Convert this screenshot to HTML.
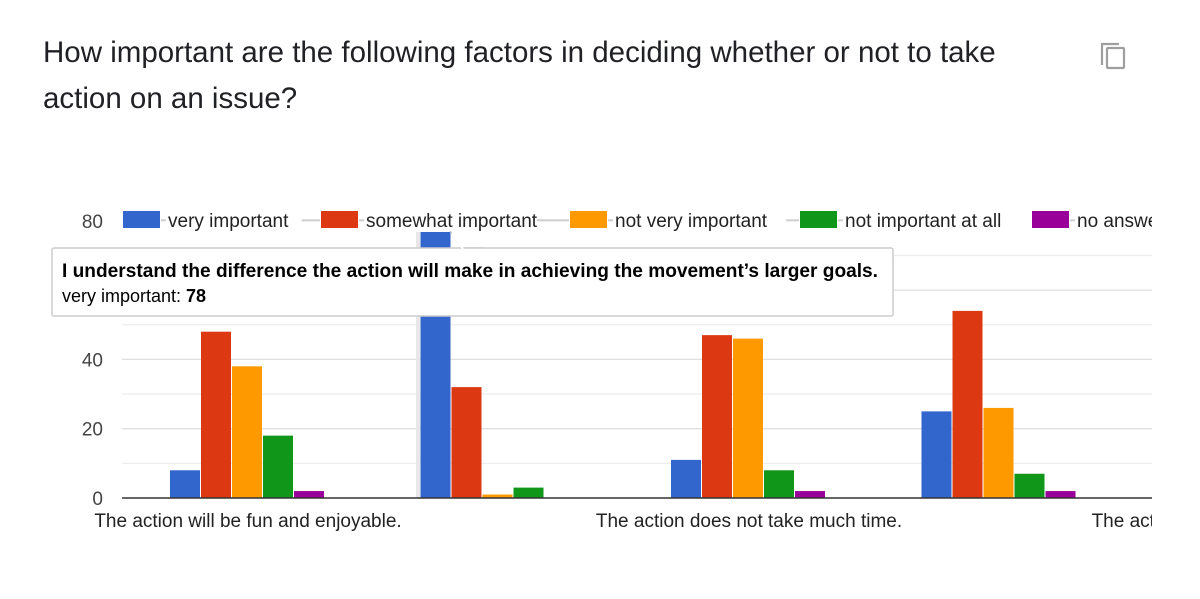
<!DOCTYPE html>
<html><head><meta charset="utf-8"><style>
body{margin:0;width:1200px;height:599px;background:#fff;overflow:hidden;font-family:"Liberation Sans",Arial,sans-serif}
#title{position:absolute;left:43px;top:30px;font-size:29.5px;line-height:46px;color:#202124;width:1000px}
svg{position:absolute;left:0;top:0}
</style></head><body>
<div id="title">How important are the following factors in deciding whether or not to take action on an issue?</div>
<svg width="1200" height="599">
<g fill="none" stroke="#9e9e9e" stroke-width="2.2">
<path d="M1102 65 V44 H1119"/><rect x="1107" y="48" width="17" height="20" rx="1"/>
</g>
<defs><clipPath id="pc"><rect x="0" y="150" width="1152" height="400"/></clipPath></defs>
<g id="grid"></g><g id="bars" clip-path="url(#pc)"></g><g id="axis"></g><g id="legend"></g><g id="xl" clip-path="url(#pc)"></g>
<g>
<path d="M450 231 L462 248 L485 248" fill="none" stroke="#ccc" stroke-width="1.5"/>
<rect x="52" y="248" width="841" height="68" rx="2" fill="#fff" stroke="#ccc" stroke-width="1.5"/>
<path d="M452 233 L463 249" stroke="#fff" stroke-width="2"/>
<text x="62" y="277" font-size="19" font-weight="bold" fill="#000" textLength="816" lengthAdjust="spacingAndGlyphs">I understand the difference the action will make in achieving the movement’s larger goals.</text>
<text x="62" y="302" font-size="18" fill="#000">very important: <tspan font-weight="bold">78</tspan></text>
</g>
</svg>
<script>
const categories=["The action will be fun and enjoyable.","I understand the difference the action will make in achieving the movement’s larger goals.","The action does not take much time.","The action is something I am good at.","The action is something I am good at."];
const seriesNames=["very important","somewhat important","not very important","not important at all","no answer"];
const veryImportant=[8,78,11,25,30];
const somewhatImportant=[48,32,47,54,45];
const notVeryImportant=[38,1,46,26,20];
const notImportantAtAll=[18,3,8,7,5];
const noAnswer=[2,0,2,2,2];
const yTicks=[0,20,40,60,80];
const colors=["#3366cc","#dc3912","#ff9900","#109618","#990099"];
const series=[veryImportant,somewhatImportant,notVeryImportant,notImportantAtAll,noAnswer];
const NS="http://www.w3.org/2000/svg";
const y0=498,pxPer=3.465,x0=122,x1=1152;
const yS=v=>y0-v*pxPer;
const xS=(c,s)=>170+c*250.5+s*31;
function mk(t,a,p){const e=document.createElementNS(NS,t);for(const k in a)e.setAttribute(k,a[k]);p.appendChild(e);return e;}
const grid=document.getElementById('grid');
for(let v=10;v<=80;v+=10){const l=mk('line',{x1:x0,x2:x1,y1:yS(v),y2:yS(v),stroke:v%20?'#eeeeee':'#e0e0e0','stroke-width':1.3},grid);

}
mk('rect',{x:416,y:222,width:4,height:276,fill:'#e8e8e8'},grid);
const bars=document.getElementById('bars');
categories.forEach((c,ci)=>{series.forEach((s,si)=>{const v=s[ci];if(v<=0)return;
const r=mk('rect',{x:xS(ci,si),y:yS(v),width:30,height:v*pxPer,fill:colors[si]},bars);

});});
const ax=document.getElementById('axis');
mk('line',{x1:x0,x2:x1,y1:y0,y2:y0,stroke:'#333','stroke-width':1.5},ax);
yTicks.forEach(v=>{const t=mk('text',{x:103,y:yS(v)+7,'text-anchor':'end','font-size':19,fill:'#444'},ax);t.textContent=v;

});
const xl=document.getElementById('xl');
categories.forEach((c,ci)=>{if(ci%2)return;const t=mk('text',{x:xS(ci,0)+78,y:527,'text-anchor':'middle','font-size':19,fill:'#222'},xl);t.textContent=c;

});
const lg=document.getElementById('legend');
const lx=[123,321,570,800,1032];
mk('line',{x1:160,x2:1152,y1:220,y2:220,stroke:'#bbb','stroke-width':1},lg);
seriesNames.forEach((n,i)=>{const g=mk('g',{},lg);


mk('rect',{x:lx[i]-1,y:207,width:39,height:26,fill:'#fff'},g);
mk('rect',{x:lx[i],y:211,width:37,height:17,fill:colors[i]},g);
const w=n.length*9.4+4;
mk('rect',{x:lx[i]+43,y:208,width:w,height:24,fill:'#fff'},g);
const t=mk('text',{x:lx[i]+45,y:227,'font-size':19,fill:'#222'},g);t.textContent=n;});
mk('rect',{x:1152,y:200,width:48,height:40,fill:'#fff'},lg);
</script>
</body></html>
